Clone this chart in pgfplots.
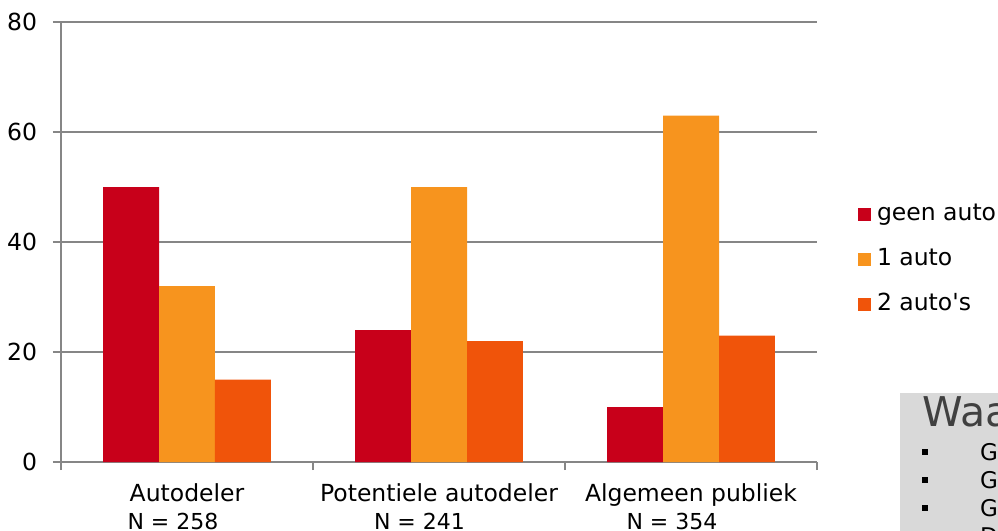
\documentclass[border=0pt]{standalone}
\usepackage{pgfplots}
\pgfplotsset{compat=1.18}
\usepackage{fontspec}
\setmainfont{DejaVu Sans}[Ligatures=TeXOff]
\definecolor{geen}{RGB}{200,0,26}
\definecolor{een}{RGB}{247,148,30}
\definecolor{twee}{RGB}{240,84,10}
\definecolor{gridgray}{RGB}{134,134,134}
\definecolor{boxgray}{RGB}{217,217,217}
\definecolor{titlegray}{RGB}{64,64,64}

\begin{document}
\fontsize{23.5}{28}\selectfont
\begin{tikzpicture}
\begin{axis}[
    at={(0pt,0pt)}, anchor=south west,
    scale only axis, width=756pt, height=440pt,
    ybar=0pt, bar width=0.2222,
    xmin=-0.5, xmax=2.5, ymin=0, ymax=80,
    axis x line*=bottom, axis y line*=left,
    axis line style={gridgray, line width=1.2pt, -},
    ytick={0,20,40,60,80},
    ymajorgrids, major grid style={gridgray, line width=1.2pt},
    tick align=outside, major tick length=8pt,
    tick style={gridgray, line width=1.2pt},
    xtick={-0.5,0.5,1.5,2.5}, xticklabels={},
    extra x ticks={0,1,2},
    extra x tick labels={
        {Autodeler\\\fontsize{22}{26}\selectfont N = 258\hspace*{28pt}},
        {Potentiele autodeler\\\fontsize{22}{26}\selectfont N = 241\hspace*{39pt}},
        {Algemeen publiek\\\fontsize{22}{26}\selectfont N = 354\hspace*{38pt}}},
    extra x tick style={major tick length=0pt, grid=none},
    xticklabel style={align=center, yshift=-14pt},
    yticklabel style={xshift=-8pt},
    /pgf/number format/assume math mode=true,
    ticklabel style={font=\fontsize{23.5}{28}\selectfont},
    legend style={at={(1.054,0.587)}, anchor=north west, draw=none, fill=none,
        inner sep=0pt, font=\fontsize{23.5}{28}\selectfont, row sep=23pt,
        nodes={inner sep=0pt, text height=17pt, text depth=5pt}},
    legend cell align=left,
    legend image code/.code={
        \draw[#1, draw=none] (0pt,-6.5pt) rectangle (13pt,6.5pt);
        \path (19pt,0pt);},
]
\addplot[fill=geen, draw=none] coordinates {(0,50) (1,24) (2,10)};
\addplot[fill=een, draw=none] coordinates {(0,32) (1,50) (2,63)};
\addplot[fill=twee, draw=none] coordinates {(0,15) (1,22) (2,23)};
\legend{geen auto, 1 auto, 2 auto's}
\end{axis}
% grey text box, cut off by the page edge as in the reference
\fill[boxgray] (839pt,-80pt) rectangle (950pt,69pt);
\node[anchor=base west, inner sep=0pt, text=titlegray, font=\fontsize{41}{48}\selectfont] at (861pt,35pt) {Waa};
\foreach \yy/\ch in {10/G,-18/G,-46/G,-74/D}{
    \fill[black] (861pt,\yy pt-3pt) rectangle (867pt,\yy pt+3pt);
    \node[anchor=west, inner sep=0pt, font=\fontsize{23}{27}\selectfont] at (919pt,\yy pt) {\ch};
}
\pgfresetboundingbox
\useasboundingbox (-61pt,-68pt) rectangle (937pt,462pt);
\end{tikzpicture}
\end{document}
